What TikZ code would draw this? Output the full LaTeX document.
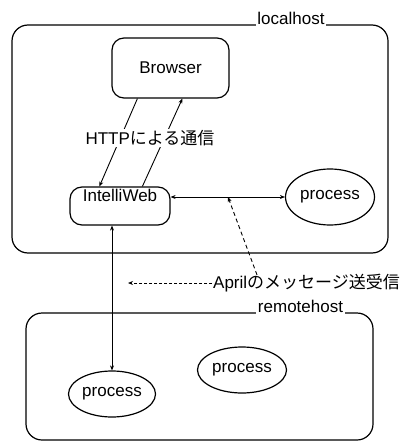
\documentclass[tikz,border=0pt]{standalone}
\usepackage{fontspec}
\setmainfont{Liberation Sans}
\newfontfamily\jp{Noto Sans CJK JP}
\usetikzlibrary{positioning,arrows.meta,shapes.geometric}

\tikzset{
    every node/.append style = {font=\fontsize{17}{20}\selectfont},
    hostbox/.style = {draw, line width=1.2pt, rounded corners=16pt},
    hostlabel/.style = {fill=white, inner sep=1.5pt, anchor=base},
    appbox/.style = {draw, line width=1.2pt, rounded corners=12pt},
    proc/.style = {draw, ellipse, line width=1.2pt, inner sep=0pt},
    link/.style = {line width=0.9pt, -{Stealth[length=5pt,width=4pt]}},
    dlink/.style = {line width=0.9pt, {Stealth[length=5pt,width=4pt]}-{Stealth[length=5pt,width=4pt]}}
}

\begin{document}
\begin{tikzpicture}[x=1pt, y=-1pt]
    \useasboundingbox (0,0) rectangle (413,441);

    % hosts
    \node[hostbox, minimum width=376pt, minimum height=228pt] (local) at (200,139) {};
    \node[hostlabel] (locallabel) at ([xshift=91pt]local.north) {localhost};
    \node[hostbox, minimum width=347pt, minimum height=127pt] (remote) at (199.5,376.5) {};
    \node[hostlabel] (remotelabel) at ([xshift=101pt]remote.north) {remotehost};

    % programs
    \node[appbox, minimum width=117pt, minimum height=60pt] (browser) at (170.5,68) {Browser};
    \node[appbox, minimum width=100pt, inner ysep=3pt, text height=11pt, text depth=21pt] (iweb) at (120,206) {IntelliWeb};
    \node[proc, minimum width=89pt, minimum height=56pt] (lproc) at (330,197) {process};
    \node[proc, minimum width=87pt, minimum height=46pt] (rproc) at (112,394) {process};
    \node[proc, minimum width=89pt, minimum height=46pt] (rproc2) at (242,370) {process};

    % HTTP
    \draw[link] ([xshift=26pt]browser.south west) -- ([xshift=30pt]iweb.north west);
    \draw[link] ([xshift=73pt]iweb.north west) -- ([xshift=71pt]browser.south west);
    \node[fill=white, inner sep=1pt] (http) at (150,138) {HTTP{\jp による通信}};

    % April
    \draw[dlink] (lproc.west -| iweb.east) -- (lproc.west);
    \draw[dlink] (rproc.north |- iweb.south) -- (rproc.north);
    \node[anchor=west, inner sep=1pt] (april) at (212,283) {April{\jp のメッセージ送受信}};
    \coordinate (hit) at (228,197);
    \coordinate (dashend) at (128,283);
    \draw[link, dash pattern=on 4pt off 3pt] ([xshift=45pt,yshift=-2pt]april.north west) -- (hit);
    \draw[link, densely dashed] (april.west) -- (dashend);
\end{tikzpicture}
\end{document}
